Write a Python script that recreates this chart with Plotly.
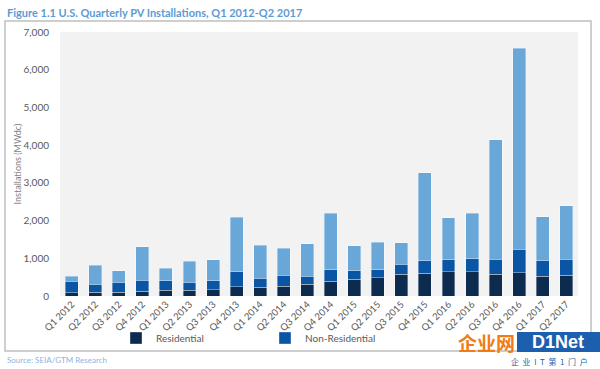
import plotly.graph_objects as go

quarters = ["Q1 2012", "Q2 2012", "Q3 2012", "Q4 2012", "Q1 2013", "Q2 2013", "Q3 2013", "Q4 2013",
            "Q1 2014", "Q2 2014", "Q3 2014", "Q4 2014", "Q1 2015", "Q2 2015", "Q3 2015", "Q4 2015",
            "Q1 2016", "Q2 2016", "Q3 2016", "Q4 2016", "Q1 2017", "Q2 2017"]
residential = [88, 97, 106, 124, 150, 150, 168, 247, 230, 265, 310, 390, 450, 485, 575, 600,
               645, 645, 583, 618, 530, 548]
non_residential = [302, 213, 257, 300, 256, 221, 238, 398, 240, 284, 220, 308, 221, 205, 265, 336,
                   310, 345, 390, 620, 406, 425]
utility = [132, 504, 309, 876, 328, 557, 549, 1442, 875, 716, 850, 1495, 655, 734, 574, 2334,
           1114, 1203, 3164, 5331, 1167, 1414]
y_ticks = [0, 1000, 2000, 3000, 4000, 5000, 6000, 7000]

fig = go.Figure()
line = dict(width=0.6, color="rgba(255,255,255,0.6)")
fig.add_trace(go.Bar(x=quarters, y=residential, name="Residential",
                     marker=dict(color="#0d2a4f", line=line)))
fig.add_trace(go.Bar(x=quarters, y=non_residential, name="Non-Residential",
                     marker=dict(color="#0b55a5", line=line)))
fig.add_trace(go.Bar(x=quarters, y=utility, name="Utility", showlegend=False,
                     marker=dict(color="#6aa7d9", line=line)))

W, H = 600, 369
L, R, T, B = 60, 22, 32, 73
pw, ph = W - L - R, H - T - B

def px(x):
    return (x - L) / pw

def py(y):
    return (H - B - y) / ph

fig.update_layout(
    width=W, height=H,
    margin=dict(l=L, r=R, t=T, b=B, autoexpand=False),
    barmode="stack", bargap=0.45,
    paper_bgcolor="white", plot_bgcolor="#f2f2f2",
    font=dict(family="Lato, Open Sans, sans-serif", size=9, color="#595959"),
    showlegend=True,
    legend=dict(orientation="h", x=px(116), y=py(338), xanchor="left", yanchor="middle",
                traceorder="normal",
                entrywidth=104, entrywidthmode="pixels", font=dict(size=10, color="#595959"),
                bgcolor="rgba(0,0,0,0)", itemwidth=30),
    xaxis=dict(tickangle=-45, showgrid=False, zeroline=False, showline=False,
               tickfont=dict(size=9.5, color="#595959"), ticks=""),
    yaxis=dict(range=[0, 7000], tickvals=y_ticks, tickformat=",", showgrid=False,
               zeroline=False, showline=False, ticks="", ticklen=0, ticklabelstandoff=10,
               tickfont=dict(size=10, color="#595959"),
               title=dict(text="Installations (MWdc)", font=dict(size=9, color="#7f7f7f"), standoff=0)),
    shapes=[
        dict(type="rect", xref="paper", yref="paper", x0=px(5), x1=px(591), y0=py(351), y1=py(21),
             line=dict(color="#bfbfbf", width=1.5), fillcolor="rgba(0,0,0,0)", layer="below"),
        dict(type="rect", xref="paper", yref="paper", x0=px(517), x1=px(600), y0=py(352), y1=py(332),
             line=dict(width=0), fillcolor="#1b5fae", layer="above"),
    ],
    annotations=[
        dict(text="<b>Figure 1.1 U.S. Quarterly PV Installations, Q1 2012-Q2 2017</b>",
             xref="paper", yref="paper", x=px(5), y=py(12), xanchor="left", yanchor="middle",
             showarrow=False, font=dict(size=11, color="#5b9bd5")),
        dict(text="Source: SEIA/GTM Research", xref="paper", yref="paper", x=px(5), y=py(360),
             xanchor="left", yanchor="middle", showarrow=False, font=dict(size=8, color="#8eb4e3")),
        dict(text="<b>企业网</b>", xref="paper", yref="paper", x=px(517), y=py(342),
             xanchor="right", yanchor="middle", showarrow=False,
             font=dict(family="Noto Sans CJK SC", size=19, color="#f07c16")),
        dict(text="<b>D1Net</b>", xref="paper", yref="paper", x=px(558), y=py(342),
             xanchor="center", yanchor="middle", showarrow=False,
             font=dict(family="Liberation Sans", size=18, color="white")),
        dict(text="企  业  I  T  第  1  门  户", xref="paper", yref="paper", x=px(590), y=py(361),
             xanchor="right", yanchor="middle", showarrow=False,
             font=dict(family="Noto Sans CJK SC", size=8, color="#1b5fae")),
    ],
)

fig.write_html("out.html", config={"displayModeBar": False},
               post_script="document.body.style.margin='0';")
